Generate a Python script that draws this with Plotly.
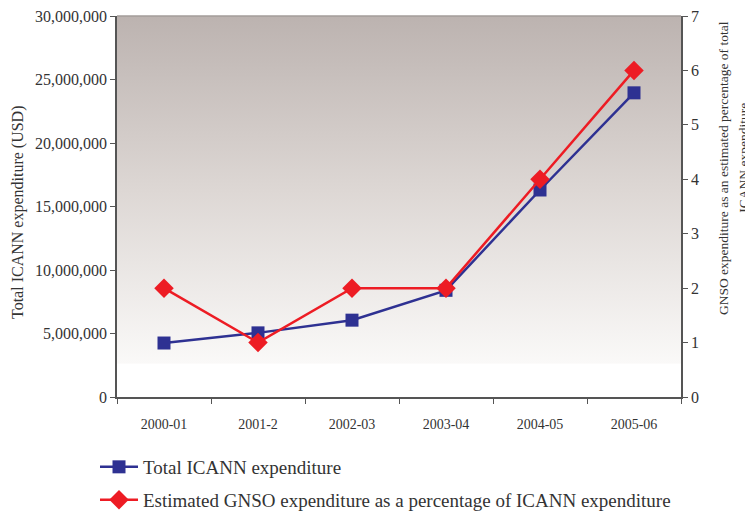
import plotly.graph_objects as go
import base64

categories = ["2000-01", "2001-2", "2002-03", "2003-04", "2004-05", "2005-06"]
total_expenditure = [4250000, 5050000, 6050000, 8400000, 16300000, 23950000]
gnso_percentage = [2, 1, 2, 2, 4, 6]

BLUE = "#2E3192"
RED = "#ED1C24"
FONT = "Liberation Serif"
TXT = "#333"

svg = (
    '<svg xmlns="http://www.w3.org/2000/svg" width="100" height="100" preserveAspectRatio="none">'
    '<defs><linearGradient id="g" x1="0" y1="0" x2="0" y2="1">'
    '<stop offset="0" stop-color="rgb(188,179,176)"/>'
    '<stop offset="0.5" stop-color="rgb(221,215,212)"/>'
    '<stop offset="1" stop-color="rgb(250,249,248)"/>'
    '</linearGradient></defs>'
    '<rect width="100" height="100" fill="url(#g)"/></svg>'
)
svg_uri = "data:image/svg+xml;base64," + base64.b64encode(svg.encode()).decode()

fig = go.Figure()
fig.add_trace(go.Scatter(
    x=categories, y=total_expenditure, name="Total ICANN expenditure",
    mode="lines+markers", line=dict(color=BLUE, width=2.5),
    marker=dict(symbol="square", size=13, color=BLUE), yaxis="y",
    legend="legend",
))
fig.add_trace(go.Scatter(
    x=categories, y=gnso_percentage,
    name="Estimated GNSO expenditure as a percentage of ICANN expenditure",
    mode="lines+markers", line=dict(color=RED, width=2.5),
    marker=dict(symbol="diamond", size=15, color=RED), yaxis="y2",
    legend="legend2",
))

def axis_common(size):
    return dict(
        showline=True, linecolor="#555", linewidth=1.5, ticks="outside",
        tickcolor="#555", ticklen=5, showgrid=False, zeroline=False,
        automargin=False, ticklabeloverflow="allow",
        tickfont=dict(family=FONT, size=size, color=TXT),
    )

# inner halves of the crossing tick marks (no labels, no lines)
inner_ticks = dict(ticks="inside", ticklen=5, tickcolor="#555", tickwidth=1,
                   showline=False, showgrid=False, zeroline=False,
                   showticklabels=False, automargin=False)

legend_common = dict(xanchor="left", yanchor="middle", x=-0.039,
                     xref="paper", yref="container",
                     font=dict(family=FONT, size=19, color=TXT),
                     bgcolor="rgba(0,0,0,0)", itemwidth=38)

fig.update_layout(
    width=753, height=511,
    margin=dict(l=109, r=80, t=8, b=122),
    paper_bgcolor="white", plot_bgcolor="white",
    font=dict(family=FONT, color=TXT),
    xaxis=dict(**axis_common(14), type="category", tickson="boundaries",
               range=[-0.5, 5.5], ticklabelstandoff=13),
    yaxis=dict(**axis_common(16), range=[0, 30000000], dtick=5000000,
               tickformat=",d"),
    yaxis2=dict(**axis_common(16), overlaying="y", side="right", range=[0, 7], dtick=1),
    xaxis2=dict(**inner_ticks, overlaying="x", side="bottom", anchor="y",
                range=[-0.5, 5.5], tickmode="linear", tick0=-0.5, dtick=1),
    yaxis3=dict(**inner_ticks, overlaying="y", side="left", anchor="x",
                range=[0, 30000000], tickmode="linear", tick0=0, dtick=5000000),
    yaxis4=dict(**inner_ticks, overlaying="y", side="right", anchor="x",
                range=[0, 7], tickmode="linear", tick0=0, dtick=1),
    legend=dict(**legend_common, y=0.1018),
    legend2=dict(**legend_common, y=0.0372),
    showlegend=True,
    images=[dict(source=svg_uri, xref="x domain", yref="y domain",
                 x=0, y=1, sizex=1, sizey=1 - 0.087, sizing="stretch",
                 xanchor="left", yanchor="top", layer="below")],
    shapes=[dict(type="line", xref="x domain", yref="y domain", x0=0, x1=1,
                 y0=1, y1=1, line=dict(color="#A39C9A", width=1.5))],
    annotations=[
        dict(text="Total ICANN expenditure (USD)", xref="paper", yref="paper",
             x=-0.1755, y=0.4856, textangle=-90, showarrow=False,
             xanchor="center", yanchor="middle",
             font=dict(family=FONT, size=16, color=TXT)),
        dict(text="GNSO expenditure as an estimated percentage of total",
             xref="paper", yref="paper", x=1.0745, y=0.601, textangle=-90,
             showarrow=False, xanchor="center", yanchor="middle",
             font=dict(family=FONT, size=13.5, color=TXT)),
        dict(text="ICANN expenditure",
             xref="paper", yref="paper", x=1.111, y=0.627, textangle=-90,
             showarrow=False, xanchor="center", yanchor="middle",
             font=dict(family=FONT, size=13.5, color=TXT)),
    ],
)

fig.write_html("out.html")
